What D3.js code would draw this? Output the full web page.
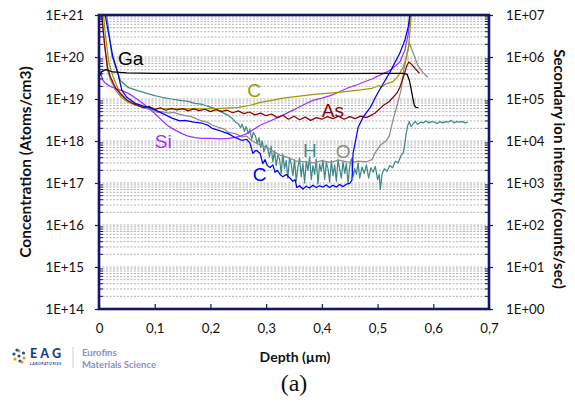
<!DOCTYPE html>
<html><head><meta charset="utf-8">
<script src="https://cdn.jsdelivr.net/npm/d3@7"></script>
<style>
html,body{margin:0;padding:0;background:#fff;}
svg{display:block;}
text{font-family:Lato,"Open Sans",sans-serif;}
</style></head>
<body>
<svg id="chart" width="575" height="403"></svg>
<script>
// ---------- data ----------
const xTicks = [0,0.1,0.2,0.3,0.4,0.5,0.6,0.7];
const xTickLabels = ["0","0,1","0,2","0,3","0,4","0,5","0,6","0,7"];
const leftTickLabels = ["1E+14","1E+15","1E+16","1E+17","1E+18","1E+19","1E+20","1E+21"];
const rightTickLabels = ["1E+00","1E+01","1E+02","1E+03","1E+04","1E+05","1E+06","1E+07"];

const ga = [[0,3.3e19],[0.005,4.5e19],[0.012,5.0e19],[0.025,4.4e19],[0.05,4.2e19],[0.1,4.1e19],[0.2,4.05e19],[0.3,4.0e19],[0.4,4.0e19],[0.5,4.05e19],[0.545,4.1e19],[0.553,3.9e19],[0.557,2.8e19],[0.560,1.8e19],[0.563,1.1e19],[0.566,7e18],[0.569,6.3e18],[0.573,6.2e18]];

const cOlive = [[0.008,1e21],[0.012,3e20],[0.018,7e19],[0.025,3.5e19],[0.038,1.3e19],[0.05,9e18],[0.065,7.2e18],[0.08,6.4e18],[0.1,6.0e18],[0.13,5.8e18],[0.16,5.9e18],[0.19,5.8e18],[0.22,6.0e18],[0.25,6.3e18],[0.27,7.0e18],[0.29,8.3e18],[0.31,9.3e18],[0.33,1.05e19],[0.36,1.17e19],[0.39,1.3e19],[0.42,1.4e19],[0.45,1.55e19],[0.47,1.65e19],[0.49,1.8e19],[0.503,2.1e19],[0.507,1.9e19],[0.515,2.3e19],[0.528,2.6e19],[0.537,3.5e19],[0.546,5.8e19],[0.551,9e19],[0.555,1.5e20],[0.558,4e20],[0.56,1e21]];

const asRed = [[0.005,1e21],[0.01,2e20],[0.015,6e19],[0.02,3.5e19],[0.03,1.8e19],[0.04,1.3e19],[0.05,9.5e18],[0.06,8e18],[0.07,7e18],[0.08,6.2e18],[0.09,6.6e18],[0.1,5.6e18],[0.11,6.2e18],[0.12,5.4e18],[0.13,6.0e18],[0.14,5.5e18],[0.15,5.9e18],[0.16,5.2e18],[0.17,5.8e18],[0.18,5.3e18],[0.19,5.7e18],[0.2,5.0e18],[0.21,5.6e18],[0.22,5.1e18],[0.23,5.4e18],[0.24,4.7e18],[0.25,5.2e18],[0.26,4.5e18],[0.27,4.9e18],[0.28,4.2e18],[0.29,4.6e18],[0.3,4.0e18],[0.31,4.4e18],[0.32,3.6e18],[0.33,4.1e18],[0.34,3.3e18],[0.35,3.9e18],[0.36,3.2e18],[0.37,3.7e18],[0.38,3.1e18],[0.39,3.6e18],[0.4,3.3e18],[0.41,3.8e18],[0.42,3.4e18],[0.43,3.9e18],[0.44,3.3e18],[0.45,3.8e18],[0.46,3.4e18],[0.47,3.9e18],[0.48,3.6e18],[0.49,4.2e18],[0.495,4.6e18],[0.505,6e18],[0.51,7e18],[0.52,8.5e18],[0.528,1.1e19],[0.535,1.4e19],[0.54,1.9e19],[0.547,3.5e19],[0.552,6e19],[0.556,7.6e19],[0.562,6.5e19],[0.568,5.2e19],[0.575,4.1e19]];

const hTeal = [[0.014,1e21],[0.023,1.1e20],[0.038,2.8e19],[0.052,1.9e19],[0.068,1.6e19],[0.083,1.4e19],[0.1,1.2e19],[0.113,1.1e19],[0.13,1.0e19],[0.145,9.3e18],[0.16,8.8e18],[0.172,7.9e18],[0.186,7.4e18],[0.2,6.4e18],[0.21,5.8e18],[0.221,4.8e18],[0.23,4.2e18],[0.239,3.5e18],[0.245,2.8e18],
 [0.25,2.6e18],[0.254,2.1e18],[0.257,2.5e18],[0.261,1.7e18],[0.264,2.2e18],[0.268,1.5e18],[0.271,1.9e18],[0.274,1.1e18],[0.277,1.6e18],[0.281,1.3e18],[0.284,8.5e17],[0.287,1.2e18],[0.29,7e17],[0.293,1.0e18],[0.296,5.5e17],[0.3,8e17],[0.303,6.5e17],[0.306,4.2e17],[0.309,7.5e17],[0.312,3.2e17],[0.315,5.8e17],[0.318,2.6e17],[0.321,4.6e17],[0.324,3.8e17],[0.327,1.7e17],[0.33,4.8e17],[0.333,2.2e17],[0.336,3.4e17],[0.339,1.3e17],[0.342,4.1e17],[0.345,2.8e17],[0.348,1.5e17],[0.351,3.6e17],[0.354,1.1e17],[0.357,2.4e17],[0.36,3.9e17],[0.363,1.4e17],[0.366,2.9e17],[0.369,1.0e17],[0.372,3.3e17],[0.375,2.0e17],[0.378,4.2e17],[0.381,1.2e17],[0.384,2.6e17],[0.387,1.6e17],[0.39,3.7e17],[0.393,9.5e16],[0.396,2.8e17],[0.399,1.9e17],[0.402,3.5e17],[0.405,1.2e17],[0.408,3.1e17],[0.411,2.2e17],[0.414,1.05e17],[0.417,3.4e17],[0.42,1.5e17],[0.423,2.7e17],[0.426,1.1e17],[0.429,3.6e17],[0.432,2.1e17],[0.435,1.3e17],[0.438,3.2e17],[0.441,1.7e17],[0.444,2.9e17],[0.447,1.0e17],[0.45,2.5e17],[0.453,3.8e17],[0.456,1.4e17],[0.459,2.2e17],[0.462,1.6e17],[0.465,3.0e17],[0.468,1.3e17],[0.472,2.4e17],[0.476,1.7e17],[0.48,2.7e17],[0.484,1.3e17],[0.488,2.3e17],[0.492,1.8e17],[0.496,2.5e17],[0.5,1.2e17],[0.503,1.6e17],[0.505,7e16],[0.508,1.6e17],[0.512,2.2e17],[0.517,1.9e17],[0.522,2.6e17],[0.527,2.3e17],[0.532,3.3e17],[0.537,3.0e17],[0.542,4.5e17],[0.546,5.2e17],[0.549,8.5e17],[0.551,1.4e18],[0.554,2.3e18],[0.557,2.9e18],[0.560,2.2e18],[0.564,2.6e18],[0.568,2.9e18],[0.572,2.5e18],[0.577,2.8e18],[0.582,2.7e18],[0.587,3.0e18],[0.592,2.7e18],[0.597,2.9e18],[0.602,2.8e18],[0.607,2.6e18],[0.612,2.9e18],[0.617,2.7e18],[0.622,2.9e18],[0.627,2.8e18],[0.632,3.1e18],[0.637,2.7e18],[0.642,2.9e18],[0.647,2.8e18],[0.652,2.9e18],[0.657,2.7e18],[0.662,2.8e18]];

const oGray = [[0.004,1e21],[0.01,2e20],[0.015,5e19],[0.02,3e19],[0.03,1.6e19],[0.04,1.1e19],[0.052,8.4e18],[0.065,7.2e18],[0.083,6.0e18],[0.095,5.5e18],[0.105,4.8e18],[0.113,5.0e18],[0.125,4.6e18],[0.135,4.8e18],[0.142,4.4e18],[0.155,4.0e18],[0.165,3.8e18],[0.172,3.5e18],[0.185,3.0e18],[0.195,2.8e18],[0.203,2.4e18],[0.215,2.1e18],[0.225,1.9e18],[0.232,1.6e18],[0.245,1.5e18],[0.257,1.25e18],[0.265,1.3e18],[0.275,1.0e18],[0.29,8.0e17],[0.3,7.0e17],[0.31,6.0e17],[0.325,4.6e17],[0.34,4.0e17],[0.355,3.3e17],[0.37,3.2e17],[0.385,3.0e17],[0.4,3.4e17],[0.415,3.1e17],[0.43,3.5e17],[0.445,3.2e17],[0.455,3.1e17],[0.465,3.3e17],[0.48,3.2e17],[0.49,3.6e17],[0.496,5.3e17],[0.505,8e17],[0.515,1.0e18],[0.521,1.3e18],[0.527,2.9e18],[0.536,7.9e18],[0.542,1.6e19],[0.547,4.9e19],[0.553,1.24e20],[0.557,2.15e20],[0.564,1.24e20],[0.572,6.4e19],[0.581,4.3e19],[0.59,3.3e19]];

const cBlue = [[0.011,1e21],[0.025,1e20],[0.034,4.1e19],[0.041,1.6e19],[0.05,1.1e19],[0.065,7.9e18],[0.08,6.8e18],[0.095,6.0e18],[0.113,4.6e18],[0.131,3.5e18],[0.145,3.0e18],[0.154,3.1e18],[0.17,2.8e18],[0.185,2.65e18],[0.195,2.4e18],[0.203,2.0e18],[0.215,1.8e18],[0.225,1.6e18],[0.232,1.5e18],[0.245,1.2e18],[0.257,1.03e18],[0.265,1.1e18],[0.271,8.9e17],[0.274,6.5e17],[0.276,5.1e17],[0.282,6.0e17],[0.289,5.1e17],[0.294,2.9e17],[0.298,3.6e17],[0.302,2.6e17],[0.307,2.35e17],[0.312,2.7e17],[0.316,1.8e17],[0.32,2.0e17],[0.325,1.6e17],[0.33,1.4e17],[0.336,1.6e17],[0.343,1.3e17],[0.348,1.1e17],[0.352,1.2e17],[0.355,7.8e16],[0.36,8.6e16],[0.366,7.2e16],[0.372,8.4e16],[0.378,7.6e16],[0.384,8.8e16],[0.39,7.8e16],[0.396,8.6e16],[0.402,8.0e16],[0.408,9.0e16],[0.414,7.8e16],[0.42,8.8e16],[0.426,8.0e16],[0.432,9.2e16],[0.438,8.2e16],[0.444,9.4e16],[0.45,9.8e16],[0.454,1.15e17],[0.456,5.1e17],[0.46,9.3e17],[0.465,2.1e18],[0.474,3.7e18],[0.487,6.3e18],[0.499,1.3e19],[0.51,2.3e19],[0.522,4.3e19],[0.54,1.24e20],[0.549,2.5e20],[0.555,5.2e20],[0.558,1e21]];

const siPurple = [[0,3.5e19],[0.002,4.5e19],[0.007,2.8e19],[0.011,2.4e19],[0.02,2.0e19],[0.029,1.8e19],[0.04,1.6e19],[0.052,1.38e19],[0.068,1.0e19],[0.083,7.1e18],[0.1,4.5e18],[0.113,3.1e18],[0.122,2.4e18],[0.131,2.0e18],[0.149,1.5e18],[0.16,1.3e18],[0.172,1.2e18],[0.185,1.15e18],[0.203,1.16e18],[0.218,1.12e18],[0.232,1.16e18],[0.245,1.22e18],[0.253,1.3e18],[0.265,1.5e18],[0.275,1.8e18],[0.29,2.4e18],[0.307,3.0e18],[0.325,3.8e18],[0.34,4.8e18],[0.355,6.0e18],[0.37,7.6e18],[0.384,9.3e18],[0.4,1.05e19],[0.415,1.2e19],[0.43,1.45e19],[0.445,1.8e19],[0.46,2.1e19],[0.474,2.5e19],[0.49,3.0e19],[0.504,3.7e19],[0.518,4.5e19],[0.528,5.5e19],[0.54,7.6e19],[0.549,1.45e20],[0.555,3.5e20],[0.558,7.6e20],[0.56,1e21]];

const seriesDefs = [
  {name:"H", data:hTeal, color:"#3f8a88"},
  {name:"O", data:oGray, color:"#8c8c8c"},
  {name:"Si", data:siPurple, color:"#9933ff"},
  {name:"C olive", data:cOlive, color:"#9c9a00"},
  {name:"As", data:asRed, color:"#8b0000"},
  {name:"C blue", data:cBlue, color:"#0000ff"},
  {name:"Ga", data:ga, color:"#000000"}
];

// label anchors (depth, value at text baseline)
const labels = [
  {t:"Ga", d:0.034, v:6.5e19, c:"#000"},
  {t:"C", d:0.266, v:1.12e19, c:"#9c9a00"},
  {t:"As", d:0.400, v:3.7e18, c:"#8b0000"},
  {t:"Si", d:0.1, v:6.8e17, c:"#9933ff"},
  {t:"H", d:0.366, v:4.2e17, c:"#3f8a88"},
  {t:"O", d:0.425, v:3.9e17, c:"#8c8c8c"},
  {t:"C", d:0.276, v:1.12e17, c:"#0000ff"}
];

// ---------- layout ----------
const X0=99, X1=489, Y0=15, Y1=309;
const svg = d3.select("#chart");
const x = d3.scaleLinear().domain([0,0.7]).range([X0,X1]);
const y = d3.scaleLog().domain([1e14,1e21]).range([Y1,Y0]);
const y2 = d3.scaleLog().domain([1,1e7]).range([Y1,Y0]);

// grid
const gridVals = [];
for (let e=14;e<21;e++) for (let m=1;m<10;m++) gridVals.push(m*Math.pow(10,e));
svg.append("g").selectAll("line").data(gridVals.filter(v=>v>1e14)).join("line")
  .attr("x1",X0).attr("x2",X1).attr("y1",d=>y(d)).attr("y2",d=>y(d))
  .attr("stroke","#a9a9a9").attr("stroke-width",0.9).attr("stroke-dasharray","2,1.5");

// clip
svg.append("clipPath").attr("id","clip").append("rect")
  .attr("x",X0).attr("y",Y0).attr("width",X1-X0).attr("height",Y1-Y0);

const line = d3.line().x(d=>x(d[0])).y(d=>y(d[1]));
const lg = svg.append("g").attr("clip-path","url(#clip)");
seriesDefs.forEach(s=>{
  lg.append("path").datum(s.data).attr("d",line)
    .attr("fill","none").attr("stroke",s.color).attr("stroke-width",1.25)
    .attr("stroke-linejoin","round");
});

// labels
svg.append("g").selectAll("text").data(labels).join("text")
  .attr("x",d=>x(d.d)).attr("y",d=>y(d.v))
  .attr("fill",d=>d.c).style("font-family","'Liberation Sans',Arial,sans-serif")
  .style("font-size","19px").text(d=>d.t);

// axes
const navy="#15156a";
const minorVals = gridVals.filter(v=>v>1e14 && Math.abs(Math.log10(v)%1)>1e-9);
svg.append("g").selectAll("line").data(minorVals).join("line")
  .attr("x1",X0).attr("x2",X0+4).attr("y1",d=>y(d)).attr("y2",d=>y(d))
  .attr("stroke",navy).attr("stroke-width",1);
svg.append("g").selectAll("line").data(minorVals).join("line")
  .attr("x1",X1).attr("x2",X1-4).attr("y1",d=>y(d)).attr("y2",d=>y(d))
  .attr("stroke",navy).attr("stroke-width",1);

const leftAxis = d3.axisLeft(y).tickValues(d3.range(14,22).map(e=>Math.pow(10,e)))
  .tickFormat((d,i)=>leftTickLabels[i]).tickSize(4).tickPadding(11);
const gl = svg.append("g").attr("transform",`translate(${X0},0)`).call(leftAxis);
const rightAxis = d3.axisRight(y2).tickValues(d3.range(0,8).map(e=>Math.pow(10,e)))
  .tickFormat((d,i)=>rightTickLabels[i]).tickSize(4).tickPadding(13);
const gr = svg.append("g").attr("transform",`translate(${X1},0)`).call(rightAxis);
const bottomAxis = d3.axisBottom(x).tickValues(xTicks)
  .tickFormat((d,i)=>xTickLabels[i]).tickSizeInner(-5).tickSizeOuter(0).tickPadding(13);
const gb = svg.append("g").attr("transform",`translate(0,${Y1})`).call(bottomAxis);
[gl,gr,gb].forEach(g=>{
  g.select(".domain").remove();
  g.selectAll(".tick line").attr("stroke",navy).attr("stroke-width",1.2);
  g.selectAll(".tick text").attr("fill","#111").style("font-family","Lato,sans-serif").style("font-size","13.3px");
});
gb.selectAll(".tick text").attr("dy","0.8em");

// border
svg.append("rect").attr("x",X0).attr("y",Y0).attr("width",X1-X0).attr("height",Y1-Y0)
  .attr("fill","none").attr("stroke",navy).attr("stroke-width",2.6);

// axis titles
svg.append("text").attr("transform",`translate(31,${(Y0+Y1)/2}) rotate(-90)`)
  .attr("text-anchor","middle").style("font-weight","bold").style("font-size","15.5px")
  .attr("fill","#111").text("Concentration (Atoms/cm3)");
svg.append("text").attr("transform",`translate(554,${(Y0+Y1)/2 + 7}) rotate(90)`)
  .attr("text-anchor","middle").style("font-weight","bold").style("font-size","15px")
  .attr("fill","#111").text("Secondary ion intensity (counts/sec)");
svg.append("text").attr("x",295).attr("y",362).attr("text-anchor","middle")
  .style("font-weight","bold").style("font-size","14px").attr("fill","#111").text("Depth (µm)");

// caption
svg.append("text").attr("x",294).attr("y",391).attr("text-anchor","middle")
  .style("font-family","'Liberation Serif','Times New Roman',serif").style("font-size","24px")
  .attr("fill","#111").text("(a)");

// logo
const logo = svg.append("g");
const dots = [[0,-5,"#f39200"],[4.5,-3,"#1d4f91"],[5,2,"#f39200"],[1,5,"#1d4f91"],[-4,3,"#f39200"],[-5,-2,"#1d4f91"],[0,0,"#1d4f91"],[-2,-6,"#1d4f91"],[3,6,"#f39200"]];
logo.selectAll("circle").data(dots).join("circle")
  .attr("cx",d=>19+d[0]).attr("cy",d=>356+d[1]).attr("r",1.6).attr("fill",d=>d[2]);
logo.append("text").attr("x",30).attr("y",358).style("font-weight","900").style("font-size","12.5px")
  .attr("fill","#1e3c8c").attr("textLength",31).text("EAG");
logo.append("text").attr("x",30).attr("y",364.5).style("font-size","3.4px").style("font-weight","bold")
  .attr("fill","#1e3c8c").attr("textLength",31).text("LABORATORIES");
logo.append("line").attr("x1",73).attr("x2",73).attr("y1",347).attr("y2",368).attr("stroke","#d0d0d0");
logo.append("text").attr("x",82).attr("y",356).style("font-weight","bold").style("font-size","9.5px")
  .attr("fill","#8a8fc2").text("Eurofins");
logo.append("text").attr("x",82).attr("y",367.5).style("font-weight","bold").style("font-size","9.5px")
  .attr("fill","#8a8fc2").text("Materials Science");
</script>
</body></html>
